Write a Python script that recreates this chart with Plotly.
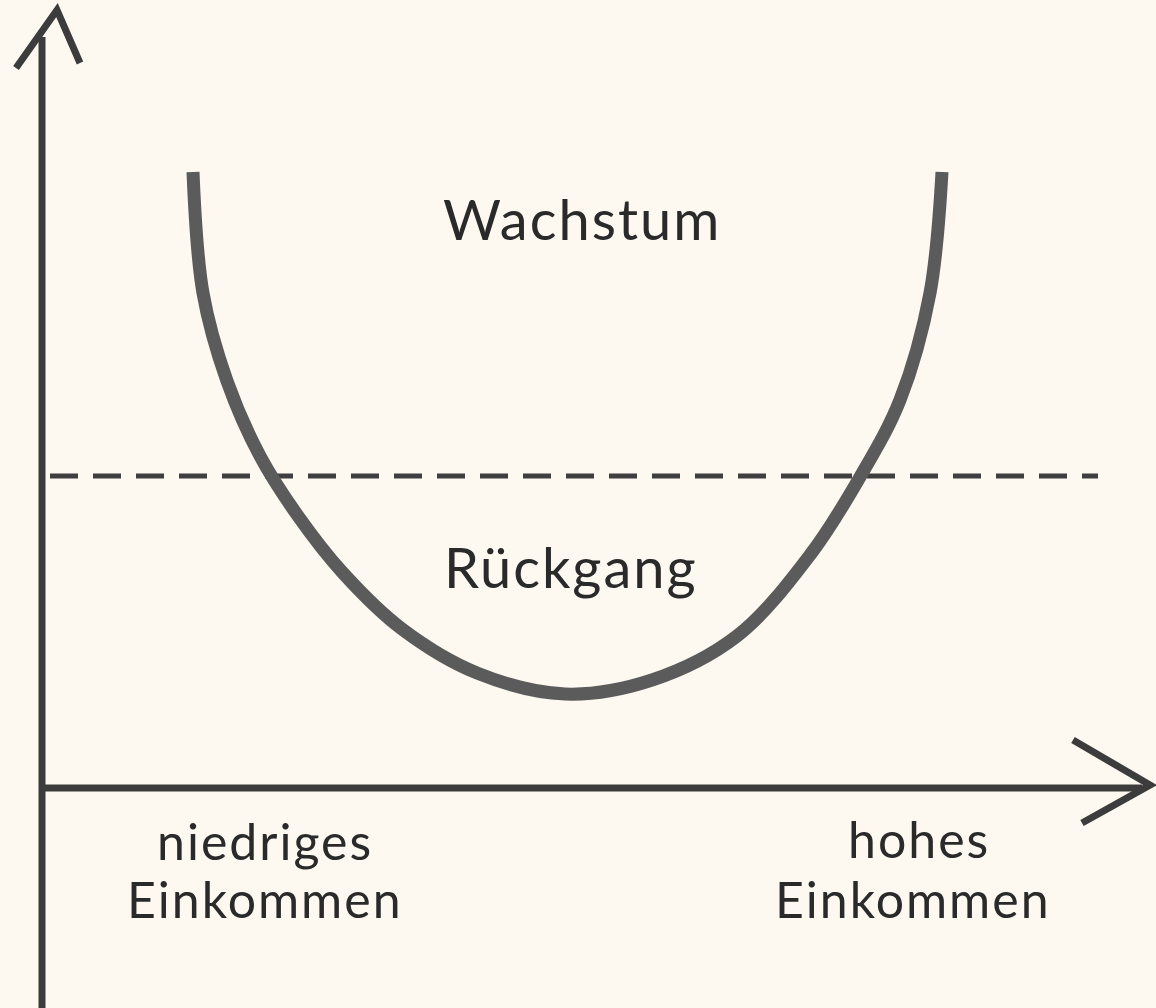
import plotly.graph_objects as go

# U-Kurve: Einkommen (x) gegen Wachstum (y)
einkommen = [15.1, 16.1, 18.5, 21.8, 25.6, 30.1, 36.0, 43.5, 52.3,
             61.0, 69.5, 76.8, 81.8, 85.8, 88.8, 90.0]
wachstum = [61.8, 49.7, 40.9, 33.4, 27.4, 21.7, 16.1, 11.7, 9.6,
            11.0, 15.4, 23.5, 31.3, 39.0, 49.7, 61.8]

schwelle = 31.4  # gestrichelte Linie
schwelle_x = [0.8, 105.6]

# Beschriftungen (je Zeile)
labels = ["Wachstum", "Rückgang", "niedriges", "Einkommen", "hohes", "Einkommen"]
label_x = [54.0, 52.9, 22.3, 22.3, 87.7, 87.1]
label_y = [57.2, 22.4, -5.1, -10.9, -4.9, -10.9]
label_size = [56, 56, 50, 50, 50, 50]

bg = "#fdf9f1"
ink = "#3c3c3c"

fig = go.Figure()

fig.add_trace(go.Scatter(x=schwelle_x, y=[schwelle, schwelle], mode="lines",
                         line=dict(color="#3f3f3f", width=5, dash="28px,15px"),
                         hoverinfo="skip"))
fig.add_trace(go.Scatter(x=einkommen, y=wachstum, mode="lines",
                         line=dict(color="#5b5b5b", width=13, shape="spline", smoothing=1.0),
                         hoverinfo="skip"))

# Achsen mit Pfeilspitzen
fig.add_shape(type="line", x0=0, y0=-22, x1=0, y1=75.3, line=dict(color=ink, width=7))
fig.add_shape(type="path", path="M -2.6 72.2 L 1.5 78 L 3.8 72.7",
              line=dict(color=ink, width=7))
fig.add_shape(type="line", x0=0, y0=0.2, x1=110, y1=0.2, line=dict(color=ink, width=7))
fig.add_shape(type="path", path="M 103.1 5.0 L 110.8 0.5 L 104.0 -3.3",
              line=dict(color=ink, width=7))

for t, x, y, s in zip(labels, label_x, label_y, label_size):
    fig.add_annotation(x=x, y=y, text=f'<span style="letter-spacing:2px">{t}</span>',
                       showarrow=False,
                       font=dict(family="Lato", size=s, color="#2a2a2a"))

fig.update_layout(
    width=1156, height=1008,
    margin=dict(l=0, r=0, t=0, b=0),
    paper_bgcolor=bg, plot_bgcolor=bg,
    showlegend=False,
    xaxis=dict(range=[-4.2, 111.4], visible=False, fixedrange=True),
    yaxis=dict(range=[-21.8, 79], visible=False, fixedrange=True),
)

fig.write_html("out.html", config={"displayModeBar": False},
               post_script="document.body.style.margin='0';document.body.style.overflow='hidden';")
